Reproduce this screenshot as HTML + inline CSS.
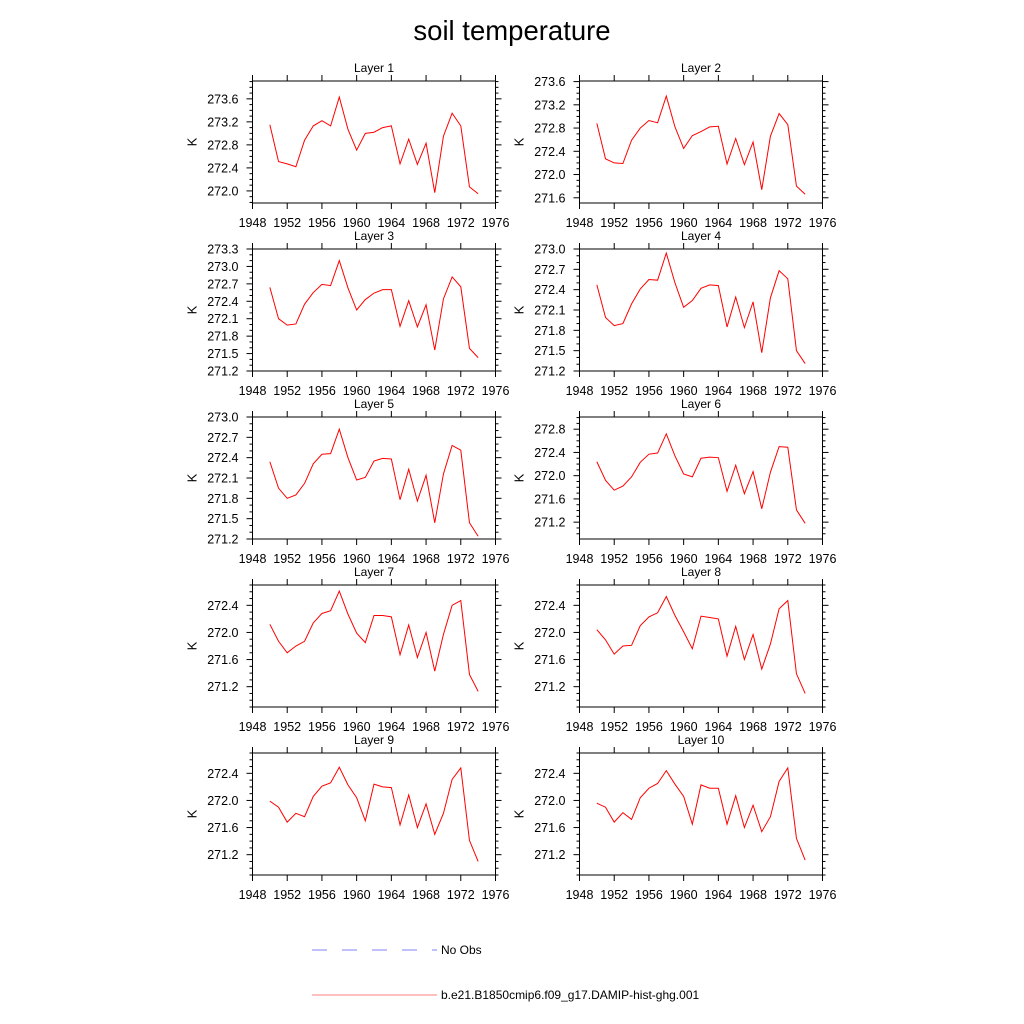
<!DOCTYPE html>
<html><head><meta charset="utf-8"><style>
html,body{margin:0;padding:0;background:#fff;}
svg{display:block;font-family:"Liberation Sans",sans-serif;}
</style></head><body>
<svg id="chart" width="1024" height="1024" viewBox="0 0 1024 1024" xmlns="http://www.w3.org/2000/svg">
<rect width="1024" height="1024" fill="#fff"/>
<text x="512" y="40" font-size="27.5" text-anchor="middle">soil temperature</text>
<g>
<line x1="312" y1="950" x2="437" y2="950" stroke="#8080ff" stroke-width="1" stroke-dasharray="15,15"/>
<text x="441" y="954" font-size="12">No Obs</text>
<line x1="312" y1="995" x2="437" y2="995" stroke="#ff8080" stroke-width="1"/>
<text x="441" y="999" font-size="12">b.e21.B1850cmip6.f09_g17.DAMIP-hist-ghg.001</text>
</g>
</svg>
<script>
const years = [1950,1951,1952,1953,1954,1955,1956,1957,1958,1959,1960,1961,1962,1963,1964,1965,1966,1967,1968,1969,1970,1971,1972,1973,1974];
const xTickLabels = [1948,1952,1956,1960,1964,1968,1972,1976];
const layer1 = [273.15,272.51,272.47,272.42,272.88,273.13,273.22,273.13,273.63,273.07,272.71,273.0,273.02,273.1,273.13,272.47,272.9,272.46,272.83,271.97,272.95,273.35,273.13,272.07,271.95];
const layer2 = [272.88,272.27,272.2,272.19,272.59,272.8,272.93,272.89,273.35,272.82,272.45,272.67,272.74,272.82,272.83,272.18,272.62,272.17,272.56,271.74,272.66,273.05,272.86,271.8,271.66];
const layer3 = [272.64,272.10,271.99,272.01,272.35,272.55,272.69,272.67,273.10,272.63,272.25,272.43,272.54,272.6,272.6,271.97,272.41,271.96,272.34,271.56,272.44,272.82,272.65,271.59,271.43];
const layer4 = [272.47,271.99,271.87,271.90,272.19,272.41,272.55,272.54,272.94,272.5,272.14,272.24,272.42,272.47,272.46,271.85,272.29,271.84,272.22,271.47,272.28,272.68,272.56,271.5,271.31];
const layer5 = [272.34,271.95,271.80,271.85,272.02,272.31,272.45,272.46,272.82,272.40,272.07,272.11,272.35,272.39,272.38,271.78,272.23,271.76,272.14,271.44,272.16,272.58,272.51,271.44,271.24];
const layer6 = [272.24,271.92,271.75,271.82,271.98,272.23,272.37,272.39,272.72,272.34,272.03,271.98,272.3,272.32,272.31,271.73,272.18,271.69,272.07,271.43,272.06,272.5,272.49,271.41,271.18];
const layer7 = [272.12,271.87,271.70,271.80,271.87,272.14,272.28,272.32,272.61,272.27,271.99,271.85,272.25,272.25,272.23,271.67,272.11,271.63,272.0,271.43,271.97,272.4,272.47,271.38,271.13];
const layer8 = [272.04,271.89,271.68,271.80,271.81,272.1,272.23,272.29,272.53,272.25,272.01,271.76,272.24,272.22,272.2,271.65,272.09,271.6,271.97,271.46,271.83,272.35,272.47,271.39,271.1];
const layer9 = [271.99,271.9,271.68,271.81,271.76,272.06,272.21,272.26,272.49,272.23,272.04,271.70,272.24,272.2,272.19,271.64,272.08,271.6,271.95,271.5,271.81,272.31,272.48,271.41,271.1];
const layer10 = [271.96,271.9,271.68,271.82,271.72,272.04,272.18,272.25,272.44,272.24,272.06,271.65,272.23,272.18,272.18,271.65,272.07,271.6,271.93,271.54,271.76,272.28,272.48,271.44,271.12];
const yMin = [271.79,271.51,271.2,271.2,271.2,270.91,270.9,270.9,270.9,270.9];
const yMax = [273.91,273.61,273.3,273.0,273.0,273.01,272.7,272.7,272.7,272.7];
const yTickStart = [272.0,271.6,271.2,271.2,271.2,271.2,271.2,271.2,271.2,271.2];
const yTickStep = [0.4,0.4,0.3,0.3,0.3,0.4,0.4,0.4,0.4,0.4];
const layers = [layer1,layer2,layer3,layer4,layer5,layer6,layer7,layer8,layer9,layer10];

const NS = "http://www.w3.org/2000/svg";
const svg = document.getElementById('chart');
function mk(tag, attrs, parent){const e=document.createElementNS(NS,tag);for(const k in attrs)e.setAttribute(k,attrs[k]);parent.appendChild(e);return e;}

const W = 243, H = 122;
for (let i=0;i<10;i++){
  const col=i%2, row=Math.floor(i/2);
  const L = col===0 ? 252.5 : 579.5;
  const T = 81 + row*168;
  const g = mk('g',{},svg);
  
  
  const xs = v => L + (v-1948)/(1976-1948)*W;
  const ys = v => T + H - (v-yMin[i])/(yMax[i]-yMin[i])*H;
  const t = mk('text',{x:L+W/2,y:T-9,'font-size':12,'text-anchor':'middle'},g);
  
  
  t.textContent = 'Layer '+(i+1);
  const yt = mk('text',{x:0,y:0,'font-size':13,'text-anchor':'middle',transform:'translate('+(L-56)+','+(T+H/2)+') rotate(-90)'},g);
  
  
  yt.textContent = 'K';
  xTickLabels.forEach(v=>{
    const x=xs(v);
    const a=mk('line',{x1:x,y1:T+H,x2:x,y2:T+H+6,stroke:'#000','stroke-width':1},g);
    
    
    const b=mk('line',{x1:x,y1:T,x2:x,y2:T-6,stroke:'#000','stroke-width':1},g);
    
    
    const lb=mk('text',{x:x,y:T+H+24,'font-size':12.5,'text-anchor':'middle'},g);
    
    
    lb.textContent = v;
  });
  const nMinor = yTickStep[i]===0.4 ? 4 : 3;
  const minorStep = yTickStep[i]/nMinor;
  let first = yTickStart[i];
  while(first - minorStep >= yMin[i]-1e-6) first -= minorStep;
  for(let v=first; v<=yMax[i]+1e-6; v+=minorStep){
    const k = Math.round((v-yTickStart[i])/minorStep);
    const major = k%nMinor===0;
    const y=ys(v);
    const len = major?6:3;
    const a=mk('line',{x1:L,y1:y,x2:L-len,y2:y,stroke:'#000','stroke-width':1},g);
    
    
    const b=mk('line',{x1:L+W,y1:y,x2:L+W+len,y2:y,stroke:'#000','stroke-width':1},g);
    
    
    if(major){
      const lb=mk('text',{x:L-14,y:y+4.5,'font-size':12.5,'text-anchor':'end'},g);
      
      
      lb.textContent = v.toFixed(1);
    }
  }
  const fr=mk('rect',{x:L,y:T,width:W,height:H,fill:'none',stroke:'#000','stroke-width':1},g);
  
  
  const pts = years.map((yr,j)=>xs(yr).toFixed(2)+','+ys(layers[i][j]).toFixed(2)).join(' ');
  const pl=mk('polyline',{points:pts,fill:'none',stroke:'#ff0000','stroke-width':1},g);
  
  
}
</script>
</body></html>
